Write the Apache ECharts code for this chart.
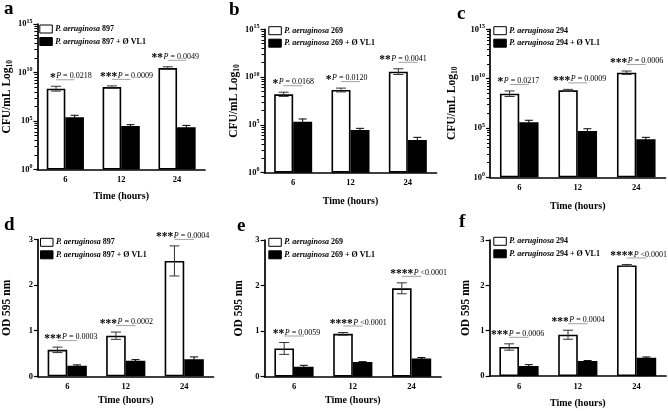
<!DOCTYPE html>
<html><head><meta charset="utf-8">
<script src="https://cdn.jsdelivr.net/npm/echarts@6/dist/echarts.min.js"></script>
<style>html,body{margin:0;padding:0;background:#fff}#c{width:668px;height:411px}</style>
</head><body><div id="c"></div>
<script>
const FONT = '"Liberation Serif", "Times New Roman", serif';
const timeLabels = ['6', '12', '24'];
const cfuTickExp = [0, 5, 10, 15];          // 10^0 ... 10^15
const odTicks = [0, 1, 2, 3];

// ---- Panel a: P. aeruginosa 897, CFU/mL (log10) ----
const a_ctrl = [8.33, 8.50, 10.46];
const a_ctrlSd = [0.25, 0.12, 0.13];
const a_phage = [5.38, 4.48, 4.35];
const a_phageSd = [0.21, 0.14, 0.20];
const a_stars = ['*', '***', '**'];
const a_p = ['P = 0.0218', 'P = 0.0009', 'P = 0.0049'];

// ---- Panel b: P. aeruginosa 269 ----
const b_ctrl = [8.20, 8.65, 10.57];
const b_ctrlSd = [0.22, 0.20, 0.30];
const b_phage = [5.34, 4.47, 3.42];
const b_phageSd = [0.28, 0.17, 0.28];
const b_stars = ['*', '*', '**'];
const b_p = ['P = 0.0168', 'P = 0.0120', 'P = 0.0041'];

// ---- Panel c: P. aeruginosa 294 ----
const c_ctrl = [8.47, 8.81, 10.60];
const c_ctrlSd = [0.28, 0.10, 0.17];
const c_phage = [5.57, 4.69, 3.85];
const c_phageSd = [0.21, 0.23, 0.20];
const c_stars = ['*', '***', '***'];
const c_p = ['P = 0.0217', 'P = 0.0009', 'P = 0.0006'];

// ---- Panel d: OD 595 nm, 897 ----
const d_ctrl = [0.58, 0.89, 2.53];
const d_ctrlSd = [0.06, 0.08, 0.33];
const d_phage = [0.23, 0.34, 0.375];
const d_phageSd = [0.02, 0.025, 0.05];
const d_stars = ['***', '***', '***'];
const d_p = ['P = 0.0003', 'P = 0.0002', 'P = 0.0004'];

// ---- Panel e: OD 595 nm, 269 ----
const e_ctrl = [0.62, 0.94, 1.94];
const e_ctrlSd = [0.13, 0.03, 0.12];
const e_phage = [0.22, 0.32, 0.40];
const e_phageSd = [0.03, 0.01, 0.02];
const e_stars = ['**', '****', '****'];
const e_p = ['P = 0.0059', 'P <0.0001', 'P <0.0001'];

// ---- Panel f: OD 595 nm, 294 ----
const f_ctrl = [0.64, 0.91, 2.44];
const f_ctrlSd = [0.07, 0.10, 0.02];
const f_phage = [0.22, 0.33, 0.40];
const f_phageSd = [0.03, 0.01, 0.02];
const f_stars = ['***', '***', '****'];
const f_p = ['P = 0.0006', 'P = 0.0004', 'P <0.0001'];

const panels = [
  {tag:'a', strain:'897', kind:'cfu', ctrl:a_ctrl, ctrlSd:a_ctrlSd, phage:a_phage, phageSd:a_phageSd, stars:a_stars, p:a_p,
   grid:{left:36.5, top:24, width:168.5, height:145.5}, bw:18.6, annDx:[-9.6,-4,-14],
   tagPos:[4,17.5], legPos:[39.3,24], yNameGap:17, xNameGap:17},
  {tag:'b', strain:'269', kind:'cfu', ctrl:b_ctrl, ctrlSd:b_ctrlSd, phage:b_phage, phageSd:b_phageSd, stars:b_stars, p:b_p,
   grid:{left:264.5, top:29.3, width:172, height:143.4}, bw:19, annDx:[-15,-19,-17],
   tagPos:[229,19], legPos:[268.3,25.7], yNameGap:18, xNameGap:19},
  {tag:'c', strain:'294', kind:'cfu', ctrl:c_ctrl, ctrlSd:c_ctrlSd, phage:c_phage, phageSd:c_phageSd, stars:c_stars, p:c_p,
   grid:{left:490, top:29.3, width:175.5, height:148}, bw:19.3, annDx:[-16,-7.5,-9],
   tagPos:[457,23], legPos:[493.3,25.7], yNameGap:26, xNameGap:19},
  {tag:'d', strain:'897', kind:'od', ctrl:d_ctrl, ctrlSd:d_ctrlSd, phage:d_phage, phageSd:d_phageSd, stars:d_stars, p:d_p,
   grid:{left:37, top:239.5, width:176.5, height:136.8}, bw:19.6, annDx:[-5.7,-8.7,-11],
   tagPos:[4,234], legPos:[40,237.3], yNameGap:20, xNameGap:14},
  {tag:'e', strain:'269', kind:'od', ctrl:e_ctrl, ctrlSd:e_ctrlSd, phage:e_phage, phageSd:e_phageSd, stars:e_stars, p:e_p,
   grid:{left:264.6, top:240, width:176.4, height:136.7}, bw:19.6, annDx:[-9.7,0,1.6],
   tagPos:[237,234.5], legPos:[268.3,237.3], yNameGap:15, xNameGap:14},
  {tag:'f', strain:'294', kind:'od', ctrl:f_ctrl, ctrlSd:f_ctrlSd, phage:f_phage, phageSd:f_phageSd, stars:f_stars, p:f_p,
   grid:{left:489.6, top:240, width:176.4, height:136}, bw:19.6, annDx:[-10.7,-9,-3.4],
   tagPos:[459,230.5], legPos:[493.3,236.3], yNameGap:13, xNameGap:17}
];

function minorExps() {
  const out = [];
  [0, 5, 10].forEach(base => {
    for (let k = 2; k <= 9; k++) out.push(base + 5 * Math.log10(k));
  });
  return out;
}

const grids = [], xAxes = [], yAxes = [], series = [], legends = [], graphics = [];

panels.forEach((P, i) => {
  grids.push(Object.assign({containLabel:false}, P.grid));
  const ctrlName = 'P. aeruginosa ' + P.strain;
  const phageName = 'P. aeruginosa ' + P.strain + ' + Ø VL1';

  xAxes.push({
    type:'category', gridIndex:i, data:timeLabels,
    axisLine:{lineStyle:{color:'#000', width:1.7}},
    axisTick:{alignWithLabel:true, length:3, lineStyle:{color:'#000', width:1.3}},
    axisLabel:{color:'#000', fontFamily:FONT, fontWeight:'bold', fontSize:8.5, margin:6},
    name:'Time (hours)', nameLocation:'middle', nameGap:P.xNameGap + 5,
    nameTextStyle:{color:'#000', fontFamily:FONT, fontWeight:'bold', fontSize:10}
  });

  const mainY = yAxes.length;
  if (P.kind === 'cfu') {
    yAxes.push({
      type:'value', gridIndex:i, min:0, max:15, interval:5,
      axisLine:{show:true, lineStyle:{color:'#000', width:1.7}},
      axisTick:{show:true, length:4, lineStyle:{color:'#000', width:1.2}, customValues:cfuTickExp},
      splitLine:{show:false},
      axisLabel:{color:'#000', margin:5, customValues:cfuTickExp,
        formatter: v => '{b|10}{s|' + v + '}',
        rich:{b:{fontFamily:FONT, fontWeight:'bold', fontSize:8.5, color:'#000'},
              s:{fontFamily:FONT, fontWeight:'bold', fontSize:6, color:'#000', padding:[0,0,6,0]}}},
      name:'{n|CFU/mL Log}{sub|10}', nameLocation:'middle', nameRotate:90, nameGap:P.yNameGap + 5,
      nameTextStyle:{rich:{n:{fontFamily:FONT, fontWeight:'bold', fontSize:11.5, color:'#000'},
                           sub:{fontFamily:FONT, fontWeight:'bold', fontSize:7.5, color:'#000', padding:[6,0,0,0]}}}
    });
    yAxes.push({
      type:'value', gridIndex:i, min:0, max:15, position:'left',
      axisLine:{show:false}, splitLine:{show:false}, axisLabel:{show:false},
      axisTick:{show:true, length:3, lineStyle:{color:'#000', width:1}, customValues:minorExps()}
    });
  } else {
    yAxes.push({
      type:'value', gridIndex:i, min:0, max:3, interval:1,
      axisLine:{show:true, lineStyle:{color:'#000', width:1.7}},
      axisTick:{show:true, length:4, lineStyle:{color:'#000', width:1.2}},
      splitLine:{show:false},
      axisLabel:{color:'#000', fontFamily:FONT, fontWeight:'bold', fontSize:8.5, margin:5},
      name:'OD 595 nm', nameLocation:'middle', nameRotate:90, nameGap:P.yNameGap + 5,
      nameTextStyle:{fontFamily:FONT, fontWeight:'bold', fontSize:11.5, color:'#000'}
    });
  }

  series.push({
    type:'bar', name:ctrlName, xAxisIndex:i, yAxisIndex:mainY, data:P.ctrl,
    barWidth:P.bw, barGap:'0%', z:2,
    itemStyle:{color:'#fff', borderColor:'#000', borderWidth:1.6}
  });
  series.push({
    type:'bar', name:phageName, xAxisIndex:i, yAxisIndex:mainY, data:P.phage,
    barWidth:P.bw, barGap:'0%', z:2,
    itemStyle:{color:'#000', borderColor:'#000', borderWidth:1.6}
  });

  const errData = [];
  P.ctrl.forEach((v, k) => errData.push([k, v - P.ctrlSd[k], v + P.ctrlSd[k], -1]));
  P.phage.forEach((v, k) => errData.push([k, v - P.phageSd[k], v + P.phageSd[k], 1]));
  series.push({
    type:'custom', xAxisIndex:i, yAxisIndex:mainY, z:3, silent:true, clip:false,
    encode:{x:0, y:[1, 2]}, data:errData,
    renderItem:(params, api) => {
      const c = api.value(0), lo = api.value(1), hi = api.value(2), side = api.value(3);
      const pLo = api.coord([c, lo]), pHi = api.coord([c, hi]);
      const x = pLo[0] + side * P.bw / 2;
      const cap = side < 0 ? 5 : 4;
      const st = {stroke: side < 0 ? '#333' : '#000', lineWidth:1};
      return {type:'group', children:[
        {type:'line', shape:{x1:x, y1:pLo[1], x2:x, y2:pHi[1]}, style:st},
        {type:'line', shape:{x1:x - cap, y1:pHi[1], x2:x + cap, y2:pHi[1]}, style:st},
        {type:'line', shape:{x1:x - cap, y1:pLo[1], x2:x + cap, y2:pLo[1]}, style:st}
      ]};
    }
  });

  const annData = P.ctrl.map((v, k) => [k, v + P.ctrlSd[k]]);
  series.push({
    type:'custom', xAxisIndex:i, yAxisIndex:mainY, z:4, silent:true, clip:false,
    encode:{x:0, y:1}, data:annData,
    renderItem:(params, api) => {
      const k = params.dataIndex;
      const pt = api.coord([api.value(0), api.value(1)]);
      const xc = pt[0];
      const xP = xc + P.annDx[k];
      const y = pt[1] - 10;
      return {type:'group', children:[
        {type:'line', shape:{x1:xc - P.bw / 2, y1:y + 3.5, x2:xc + P.bw / 2, y2:y + 3.5},
         style:{stroke:'#8a8a8a', lineWidth:0.8}},
        {type:'text', style:{text:P.stars[k], x:xP, y:y + 1.5, align:'right', verticalAlign:'middle',
          font:'bold 11.5px ' + FONT, fill:'#000'}},
        {type:'text', style:{text:'{p|P}{t|' + P.p[k].slice(1) + '}', x:xP + 0.5, y:y, align:'left', verticalAlign:'middle',
          rich:{p:{fontFamily:FONT, fontStyle:'italic', fontSize:8, fill:'#000', color:'#000'},
                t:{fontFamily:FONT, fontSize:8, fill:'#000', color:'#000'}}}}
      ]};
    }
  });

  legends.push({
    left:P.legPos[0], top:P.legPos[1], orient:'vertical', padding:0, itemGap:2.5,
    itemWidth:12.5, itemHeight:8, icon:'rect', selectedMode:false,
    data:[
      {name:ctrlName, itemStyle:{color:'#fff', borderColor:'#000', borderWidth:1}},
      {name:phageName, itemStyle:{color:'#000', borderColor:'#000', borderWidth:1}}
    ],
    formatter: name => '{i|P. aeruginosa}{r|' + name.slice(13) + '}',
    textStyle:{padding:[0,0,0,-2], lineHeight:10,
      rich:{i:{fontFamily:FONT, fontStyle:'italic', fontWeight:'bold', fontSize:8, color:'#000'},
            r:{fontFamily:FONT, fontWeight:'bold', fontSize:8, color:'#000'}}}
  });

  graphics.push({type:'text', left:P.tagPos[0], top:P.tagPos[1] - 18,
    style:{text:P.tag, font:'bold 19px ' + FONT, fill:'#000'}});
});

const chart = echarts.init(document.getElementById('c'), null, {renderer:'canvas'});
chart.setOption({
  animation:false,
  backgroundColor:'#fff',
  grid:grids, xAxis:xAxes, yAxis:yAxes, series:series, legend:legends, graphic:graphics
});
</script></body></html>
